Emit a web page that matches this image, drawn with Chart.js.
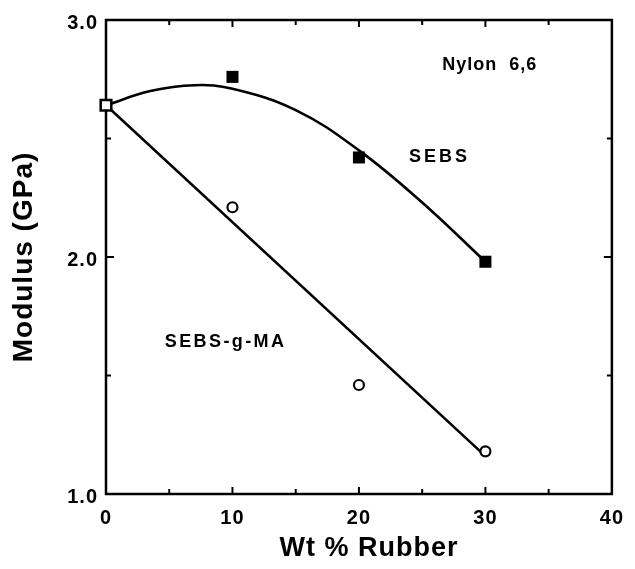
<!DOCTYPE html>
<html>
<head>
<meta charset="utf-8">
<script src="https://cdn.jsdelivr.net/npm/chart.js@4"></script>
<style>
  body { margin: 0; background: #fff; }
  canvas { display: block; }
</style>
</head>
<body>
<canvas id="chart" width="635" height="569"></canvas>
<script>
// neat nylon point, shared start of both curves
const nylonWt = [0];
const nylonModulus = [2.64];

// blends
const rubberWt = [10, 20, 30];
const sebsModulus = [2.76, 2.42, 1.98];
const sebsMaModulus = [2.21, 1.46, 1.18];

// fitted curves
const sebsFitWt = [0, 3.5, 7, 10, 15, 20, 25, 30];
const sebsFitModulus = [2.64, 2.70, 2.725, 2.71, 2.62, 2.45, 2.23, 1.98];
const sebsMaFitWt = [0, 30];
const sebsMaFitModulus = [2.64, 1.16];

const xTicks = [0, 10, 20, 30, 40];
const xMinorTicks = [5, 15, 25, 35];
const yTicks = [1.0, 2.0, 3.0];
const yMinorTicks = [1.5, 2.5];

// text labels placed in data units
const notes = [
  { text: "Nylon  6,6", x: 30.3, y: 2.81, spacing: 1 },
  { text: "SEBS", x: 26.25, y: 2.42, spacing: 3 },
  { text: "SEBS-g-MA", x: 9.36, y: 1.64, spacing: 2.4 }
];

function pts(xs, ys) {
  return xs.map(function(x, i) { return { x: x, y: ys[i] }; });
}

const FONT = "'Liberation Sans', Arial, sans-serif";

const framePlugin = {
  id: "frame",
  beforeDraw: function(chart) {
    chart.ctx.letterSpacing = "1px";
  },
  beforeDatasetsDraw: function(chart) {
    const ctx = chart.ctx;
    const a = chart.chartArea;
    const xs = chart.scales.x, ys = chart.scales.y;
    ctx.save();
    ctx.strokeStyle = "#000";
    ctx.lineWidth = 2.5;
    ctx.strokeRect(a.left, a.top, a.right - a.left, a.bottom - a.top);

    ctx.lineWidth = 2;
    ctx.beginPath();
    function xTick(v, len) {
      const px = xs.getPixelForValue(v);
      ctx.moveTo(px, a.bottom); ctx.lineTo(px, a.bottom - len);
      ctx.moveTo(px, a.top); ctx.lineTo(px, a.top + len);
    }
    function yTick(v, len) {
      const py = ys.getPixelForValue(v);
      ctx.moveTo(a.left, py); ctx.lineTo(a.left + len, py);
      ctx.moveTo(a.right, py); ctx.lineTo(a.right - len, py);
    }
    xTicks.slice(1, -1).forEach(function(v) { xTick(v, 7); });
    xMinorTicks.forEach(function(v) { xTick(v, 5); });
    yTicks.slice(1, -1).forEach(function(v) { yTick(v, 8); });
    yMinorTicks.forEach(function(v) { yTick(v, 5); });
    ctx.stroke();
    ctx.restore();
  },
  afterDraw: function(chart) {
    const ctx = chart.ctx;
    const a = chart.chartArea;
    const xs = chart.scales.x, ys = chart.scales.y;
    ctx.save();
    ctx.fillStyle = "#000";
    ctx.textAlign = "center";
    ctx.textBaseline = "middle";
    ctx.font = "bold 18px " + FONT;
    notes.forEach(function(n) {
      ctx.letterSpacing = n.spacing + "px";
      ctx.fillText(n.text, xs.getPixelForValue(n.x) + n.spacing / 2, ys.getPixelForValue(n.y));
    });
    // x axis title, sits a little right of the plot centre in the original
    ctx.letterSpacing = "1px";
    ctx.font = "bold 27px " + FONT;
    ctx.fillText("Wt % Rubber", (a.left + a.right) / 2 + 10, chart.height - 20);
    ctx.restore();
    ctx.letterSpacing = "0px";
  }
};

new Chart(document.getElementById("chart"), {
  type: "scatter",
  data: {
    datasets: [
      {
        data: pts(nylonWt, nylonModulus),
        pointStyle: "rect",
        pointRadius: 7.5,
        pointBorderWidth: 2.5,
        pointBorderColor: "#000",
        pointBackgroundColor: "#fff",
        clip: false
      },
      {
        data: pts(rubberWt, sebsModulus),
        pointStyle: "rect",
        pointRadius: 8.5,
        pointBorderWidth: 0,
        pointBackgroundColor: "#000",
        clip: false
      },
      {
        data: pts(rubberWt, sebsMaModulus),
        pointStyle: "circle",
        pointRadius: 5,
        pointBorderWidth: 2.2,
        pointBorderColor: "#000",
        pointBackgroundColor: "#fff",
        clip: false
      },
      {
        data: pts(sebsFitWt, sebsFitModulus),
        showLine: true,
        pointRadius: 0,
        borderColor: "#000",
        borderWidth: 2.6,
        tension: 0.4
      },
      {
        data: pts(sebsMaFitWt, sebsMaFitModulus),
        showLine: true,
        pointRadius: 0,
        borderColor: "#000",
        borderWidth: 2.6
      }
    ]
  },
  options: {
    responsive: false,
    animation: false,
    devicePixelRatio: 1,
    layout: { padding: { top: 18, right: 14, left: 0, bottom: 0 } },
    plugins: { legend: { display: false }, tooltip: { enabled: false } },
    scales: {
      x: {
        type: "linear",
        min: 0,
        max: 40,
        afterBuildTicks: function(s) { s.ticks = xTicks.map(function(v) { return { value: v }; }); },
        afterFit: function(s) { s.height = 75; },
        grid: { display: false, drawTicks: false },
        border: { display: false },
        ticks: {
          color: "#000",
          padding: 12,
          font: { family: FONT, size: 20, weight: "bold" },
          callback: function(v) { return String(v); }
        },
        title: { display: false }
      },
      y: {
        type: "linear",
        min: 1,
        max: 3,
        afterBuildTicks: function(s) { s.ticks = yTicks.map(function(v) { return { value: v }; }); },
        afterFit: function(s) { s.width = 106; },
        grid: { display: false, drawTicks: false },
        border: { display: false },
        ticks: {
          color: "#000",
          padding: 8,
          labelOffset: 3,
          font: { family: FONT, size: 20, weight: "bold" },
          callback: function(v) { return v.toFixed(1); }
        },
        title: {
          display: true,
          text: "Modulus (GPa)",
          color: "#000",
          font: { family: FONT, size: 28, weight: "bold", lineHeight: 1 },
          padding: { top: 10, bottom: 0 }
        }
      }
    }
  },
  plugins: [framePlugin]
});
</script>
</body>
</html>
